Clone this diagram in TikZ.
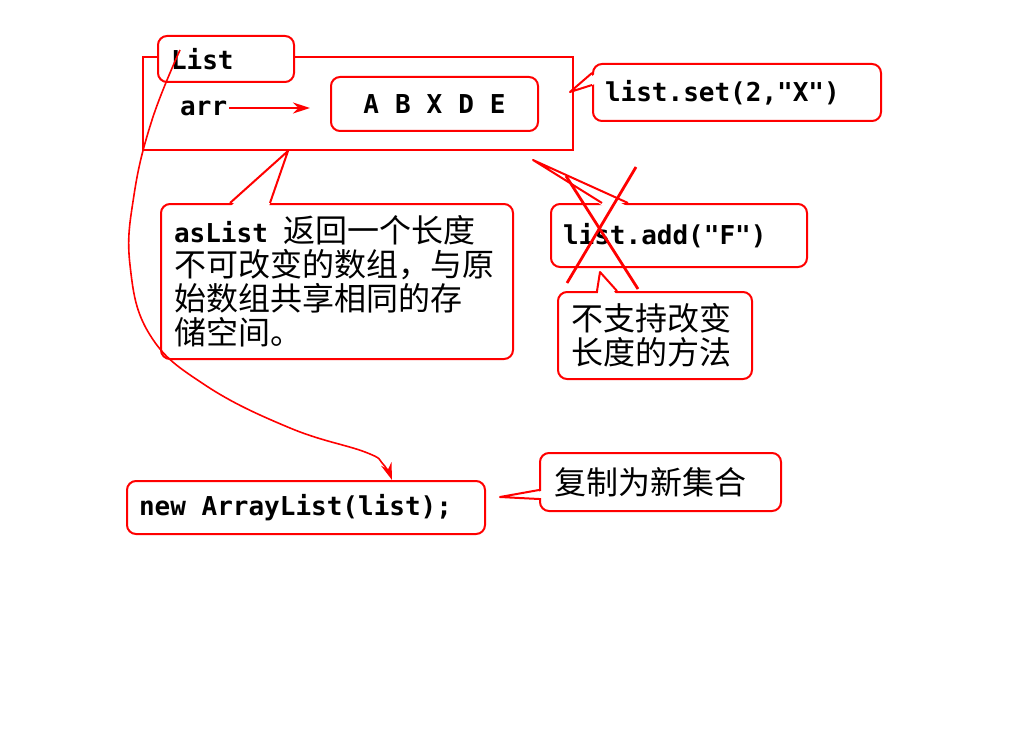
\documentclass[tikz,border=0pt]{standalone}
\usepackage{fontspec}
\setmonofont{DejaVu Sans Mono}
\newfontfamily\cjk{Noto Sans CJK SC}
\newcommand\zh[1]{{\fontsize{32}{34}\selectfont\cjk\mdseries #1}}
\newcommand\monospace{\fontsize{26}{34}\selectfont\ttfamily\bfseries}
\newcommand\blank{\hspace{0.602em}}
\usetikzlibrary{calc,arrows.meta}

\begin{document}
\begin{tikzpicture}[x=1pt, y=-1pt, >={Stealth[length=17pt,width=11pt]},
    box/.style={draw=red, line width=2pt, rounded corners=9pt, fill=white,
      anchor=north west, inner xsep=12pt, inner ysep=0pt, align=left,
      font=\monospace},
    han/.style={font=\fontsize{32}{34}\selectfont\cjk},
    tail/.style={red, line width=2pt, line join=round}]

  \useasboundingbox (0,0) rectangle (1024,738);

  % the list object and its backing array
  \node[draw=red, line width=2pt, minimum width=430pt, minimum height=93pt,
    inner sep=0pt, anchor=north west] (obj) at (142,56) {};
  \node[box, align=center, text width=183pt, minimum height=54pt] (abc) at (330,76)
    {A\hspace{16pt}B\hspace{16pt}X\hspace{16pt}D\hspace{16pt}E};
  \node[font=\monospace, inner sep=2pt, anchor=west] (arr) at (178,108) {arr};
  \draw[->, red, line width=2pt] (arr.east) -- ($(arr.east -| abc.west)+(-20,0)$);
  \node[box, inner xsep=13pt, text width=110pt, minimum height=46pt] (lst) at (157,35) {List};

  % callouts
  \node[box, text width=264pt, minimum height=57pt] (setb) at (592,63) {list.set(2,"X")};
  \coordinate (settip) at ($(obj.north east)+(-4,36)$);
  \fill[white] ($(setb.north west)+(3,11)$) -- (settip) -- ($(setb.north west)+(3,21)$) -- cycle;
  \draw[tail] ($(setb.north west)+(0,10)$) -- (settip) -- ($(setb.north west)+(0,22)$);

  \node[box, inner xsep=13pt, text width=326pt, minimum height=155pt] (asl) at (160,203)
    {asList\blank\zh{返回一个长度}\\ \zh{不可改变的数组，与原}\\ \zh{始数组共享相同的存}\\ \zh{储空间。}};
  \coordinate (asltip) at ($(obj.south west)+(146,0)$);
  \fill[white] ($(asl.north west)+(71,3)$) -- (asltip) -- ($(asl.north west)+(109,3)$) -- cycle;
  \draw[tail] ($(asl.north west)+(70,0)$) -- (asltip) -- ($(asl.north west)+(110,0)$);

  \node[box, text width=232pt, minimum height=63pt] (addb) at (550,203) {list.add("F")};
  \coordinate (addtip) at ($(addb.north west)+(-17,-43)$);
  \fill[white] ($(addb.north west)+(53,3)$) -- (addtip) -- ($(addb.north west)+(77,3)$) -- cycle;
  \draw[tail] ($(addb.north west)+(52,0)$) -- (addtip) -- ($(addb.north west)+(78,0)$);

  \node[box, han, inner xsep=13pt, text width=168pt, minimum height=87pt] (nos) at (557,291)
    {不支持改变\\长度的方法};
  \coordinate (nostip) at ($(nos.north west)+(43,-19)$);
  \fill[white] ($(nos.north west)+(41,3)$) -- (nostip) -- ($(nos.north west)+(59,3)$) -- cycle;
  \draw[tail] ($(nos.north west)+(40,0)$) -- (nostip) -- ($(nos.north west)+(60,0)$);

  % copy into a new collection
  \node[box, text width=334pt, minimum height=53pt] (nal) at (126,480) {new\blank ArrayList(list);};
  \node[box, han, inner xsep=14pt, text width=213pt, minimum height=58pt] (cpy) at (539,452) {复制为新集合};
  \coordinate (cpytip) at ($(nal.north east)+(14,17)$);
  \fill[white] ($(cpy.north west)+(3,39)$) -- (cpytip) -- ($(cpy.north west)+(3,46)$) -- cycle;
  \draw[tail] ($(cpy.north west)+(0,38)$) -- (cpytip) -- ($(cpy.north west)+(0,47)$);

  % add is not supported
  \draw[red, line width=2.8pt] ($(addb.north west)+(16,-27)$) -- ($(addb.north west)+(88,86)$);
  \draw[red, line width=2.8pt] ($(addb.north west)+(86,-36)$) -- ($(addb.north west)+(17,80)$);

  % from List down to the copy
  \coordinate (cs) at ($(lst.north west)+(23,15)$);
  \coordinate (ce) at ($(nal.north west)+(266,0)$);
  \draw[->, red, line width=1.6pt] plot[smooth, tension=0.7] coordinates
    {(cs) (152,120) (134,195) (130,265) (150,335) (205,385) (290,428) (365,452) (383,464) (ce)};
\end{tikzpicture}
\end{document}
